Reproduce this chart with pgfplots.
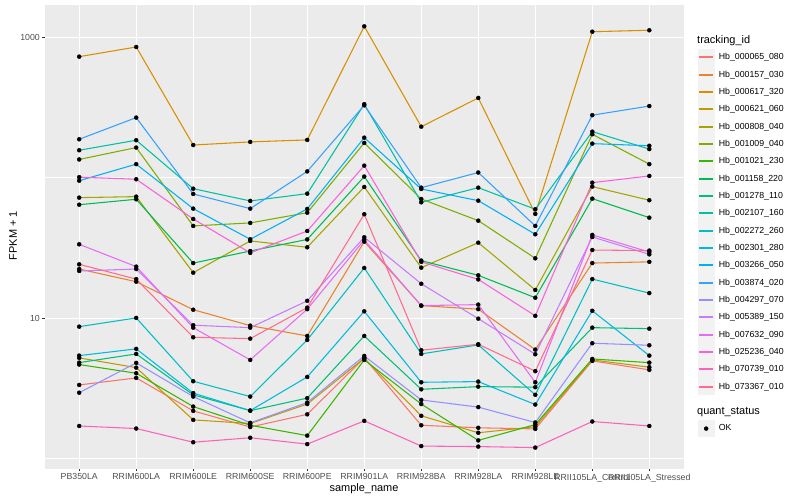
\documentclass[border=0pt]{standalone}
\usepackage{pgfplots}
\pgfplotsset{compat=1.18}
\usepackage{pgfplotstable}
\usepackage{fontspec}
\setmainfont{Liberation Sans}
\definecolor{c1}{HTML}{F8766D}
\definecolor{c2}{HTML}{EA8331}
\definecolor{c3}{HTML}{D89000}
\definecolor{c4}{HTML}{C09B00}
\definecolor{c5}{HTML}{A3A500}
\definecolor{c6}{HTML}{7CAE00}
\definecolor{c7}{HTML}{39B600}
\definecolor{c8}{HTML}{00BB4E}
\definecolor{c9}{HTML}{00BF7D}
\definecolor{c10}{HTML}{00C1A3}
\definecolor{c11}{HTML}{00BFC4}
\definecolor{c12}{HTML}{00BAE0}
\definecolor{c13}{HTML}{00B0F6}
\definecolor{c14}{HTML}{35A2FF}
\definecolor{c15}{HTML}{9590FF}
\definecolor{c16}{HTML}{C77CFF}
\definecolor{c17}{HTML}{E76BF3}
\definecolor{c18}{HTML}{FA62DB}
\definecolor{c19}{HTML}{FF62BC}
\definecolor{c20}{HTML}{FF6C90}
\definecolor{ggbg}{HTML}{EBEBEB}
\definecolor{ggkey}{HTML}{F2F2F2}
\definecolor{ggtick}{HTML}{333333}
\definecolor{ggtext}{HTML}{4D4D4D}
\pgfplotstableread{
x s1 s2 s3 s4 s5 s6 s7 s8 s9 s10 s11 s12 s13 s14 s15 s16 s17 s18 s19 s20
0 3.35 22.4 728 5.22 72.2 135 4.68 64.3 4.83 157 8.71 5.42 95.3 188 2.95 21.7 33.6 101 1.71 24.2
1 3.76 18.2 853 4.45 73.4 164 4.06 70.3 5.57 185 10.05 6.05 125 268 4.81 22.4 23.3 97.6 1.64 19.0
2 2.19 11.5 171 1.89 21.1 45.4 2.35 24.7 2.85 83.6 3.56 2.93 60.3 76.7 2.77 8.92 8.57 50.9 1.31 7.32
3 1.68 8.86 180 1.78 35.5 47.7 1.73 30.1 2.20 68.4 2.77 2.20 36.5 60.3 1.80 8.57 5.05 29.2 1.41 7.16
4 2.07 7.48 186 2.45 32.0 56.4 1.46 36.4 2.70 77.1 7.01 3.82 60.0 111 2.51 13.3 11.6 41.8 1.27 11.9
5 5.22 35.1 1197 5.19 86.0 177 5.05 102 7.48 334 22.8 11.2 193 328 5.39 37.7 36.1 122 1.86 55.0
6 1.73 12.3 231 2.02 22.9 70.6 2.45 25.7 3.12 66.9 5.57 3.50 83.2 85.0 2.62 17.6 12.3 25.2 1.23 5.92
7 1.66 11.6 370 1.53 34.5 49.5 1.35 20.2 3.26 85.0 6.46 3.54 68.7 109 2.33 9.93 12.5 18.9 1.22 6.53
8 1.63 5.98 55.3 1.69 15.9 26.7 1.75 14.0 3.23 59.7 2.85 2.43 39.6 45.4 1.81 5.54 3.50 10.4 1.20 4.20
9 4.97 24.7 1096 5.05 86.5 204 5.13 71.0 8.57 213 19.0 11.3 175 279 6.64 37.9 39.2 92.3 1.84 30.6
10 4.29 25.2 1122 4.48 69.2 125 4.83 52.0 8.43 160 15.1 5.42 169 324 6.42 28.5 29.6 103 1.71 30.3
}\datatable
\begin{document}
\begin{tikzpicture}[x=1bp,y=1bp]
\useasboundingbox (0,0) rectangle (800,500);
\begin{axis}[
 at={(45bp,31.3bp)}, anchor=south west,
 width=638.5bp, height=463.4bp, scale only axis,
 xmin=-0.6, xmax=10.6,
 ymode=log, ymin=0.849, ymax=1690,
 xtick={0,...,10},
 xticklabels={PB350LA,RRIM600LA,RRIM600LE,RRIM600SE,RRIM600PE,RRIM901LA,RRIM928BA,RRIM928LA,RRIM928LE,RRII105LA\_Control,RRII105LA\_Stressed},
 ytick={10,1000}, yticklabels={10,1000},
 minor ytick={1,100},
 grid=both,
 major grid style={white, line width=1.07bp},
 minor grid style={white, line width=0.53bp},
 axis background/.style={fill=ggbg},
 axis line style={draw=none},
 tick align=outside,
 major tick length=2.75bp,
 minor tick length=0bp,
 xtick pos=bottom, ytick pos=left,
 tick style={ggtick, line width=1.07bp},
 ticklabel style={font=\fontsize{8.8}{10}\selectfont, text=ggtext, inner sep=0pt},
 xticklabel style={yshift=-2.2bp},
 yticklabel style={xshift=-2.2bp},
 legend style={at={(1.02194,0.90624)}, anchor=north west, draw=none, fill=none,
   inner sep=0pt, outer sep=0pt, row sep=0.05bp,
   font=\fontsize{8.8}{10}\selectfont,
   nodes={inner sep=0pt, text=black},
   /tikz/every odd column/.append style={column sep=4bp}},
 legend cell align=left,
 legend image code/.code={
   \fill[fill=ggkey,draw=none] (0bp,-8.64bp) rectangle (17.28bp,8.64bp);
   \draw[line width=1.8bp] (1.7bp,0bp) -- (15.6bp,0bp);
 },
 legend entries={Hb\_000065\_080,Hb\_000157\_030,Hb\_000617\_320,Hb\_000621\_060,Hb\_000808\_040,Hb\_001009\_040,Hb\_001021\_230,Hb\_001158\_220,Hb\_001278\_110,Hb\_002107\_160,Hb\_002272\_260,Hb\_002301\_280,Hb\_003266\_050,Hb\_003874\_020,Hb\_004297\_070,Hb\_005389\_150,Hb\_007632\_090,Hb\_025236\_040,Hb\_070739\_010,Hb\_073367\_010},
]
\pgfplotsinvokeforeach{1,...,20}{
 \addplot[c#1, line width=1.07bp, line join=round] table[x=x,y=s#1]{\datatable};
}
\pgfplotsinvokeforeach{1,...,20}{
 \addplot[only marks, mark=*, mark size=2bp, black, forget plot] table[x=x,y=s#1]{\datatable};
}
\end{axis}
\begin{axis}[
 at={(45bp,31.3bp)}, anchor=south west,
 width=638.5bp, height=463.4bp, scale only axis,
 hide axis, xmin=0, xmax=1, ymin=0, ymax=1,
 legend style={at={(1.02194,0.10520)}, anchor=north west, draw=none, fill=none,
   inner sep=0pt, outer sep=0pt, row sep=0pt,
   font=\fontsize{8.8}{10}\selectfont,
   nodes={inner sep=0pt, text=black},
   /tikz/every odd column/.append style={column sep=4bp}},
 legend cell align=left,
 legend image code/.code={
   \fill[fill=ggkey,draw=none] (0bp,-8.64bp) rectangle (17.28bp,8.64bp);
   \draw[mark=*, mark size=2bp] plot coordinates {(8.64bp,0bp)};
 },
]
\addlegendimage{black, only marks, mark=*}
\addlegendentry{OK}
\end{axis}
\node[anchor=west, font=\fontsize{11}{13}\selectfont, inner sep=0pt] at (697,459.3) {tracking\_id};
\node[anchor=west, font=\fontsize{11}{13}\selectfont, inner sep=0pt] at (697,88) {quant\_status};
\node[font=\fontsize{11}{13}\selectfont, inner sep=0pt] at (364,11) {sample\_name};
\node[rotate=90, font=\fontsize{11}{13}\selectfont, inner sep=0pt] at (13,264.5) {FPKM + 1};
\end{tikzpicture}
\end{document}
